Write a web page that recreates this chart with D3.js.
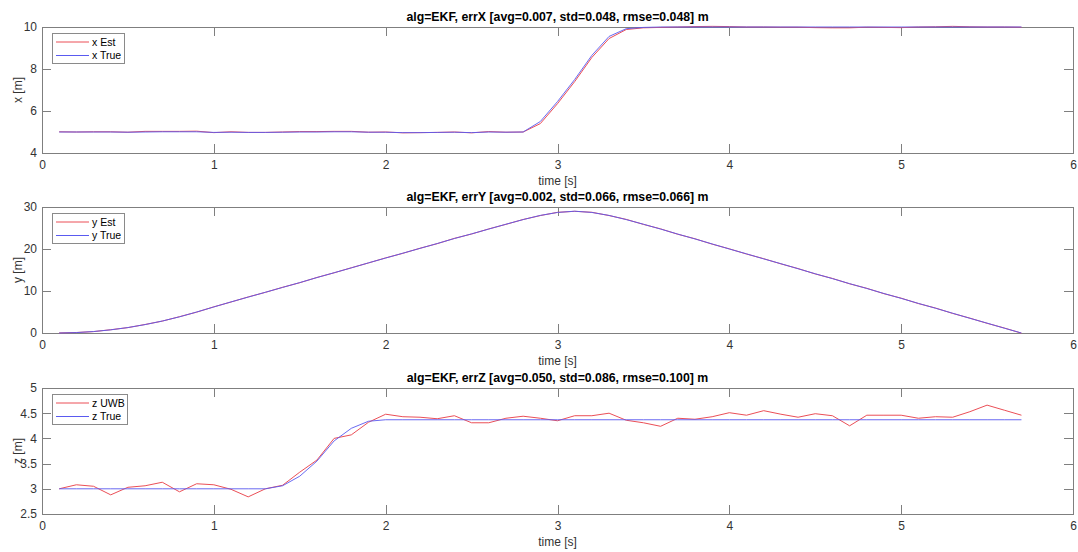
<!DOCTYPE html>
<html>
<head>
<meta charset="utf-8">
<style type="text/css">
  body { margin:0; background:#fff; }
  * { font-family:"Liberation Sans",Arial,Helvetica,sans-serif; }
  .axis path, .axis line { stroke:#7f7f7f; shape-rendering:crispEdges; }
  .axis text { fill:#333; font-size:12px; }
  .title { font-size:12.3px; font-weight:bold; fill:#000; }
  .lbl { font-size:12px; fill:#333; }
  .leg text { font-size:10.5px; fill:#000; }
</style>
</head>
<body>
<div id="canvas"></div>
<script src="https://cdn.jsdelivr.net/npm/d3@7"></script>
<script type="text/javascript">

// sample times 0.1 .. 5.7 s
var time = [0.1,0.2,0.3,0.4,0.5,0.6,0.7,0.8,0.9,1.0,1.1,1.2,1.3,1.4,1.5,1.6,1.7,1.8,1.9,2.0,
            2.1,2.2,2.3,2.4,2.5,2.6,2.7,2.8,2.9,3.0,3.1,3.2,3.3,3.4,3.5,3.6,3.7,3.8,3.9,4.0,
            4.1,4.2,4.3,4.4,4.5,4.6,4.7,4.8,4.9,5.0,5.1,5.2,5.3,5.4,5.5,5.6,5.7];

var xEst  = [5.01,5.00,5.01,5.01,4.99,5.03,5.03,5.03,5.04,4.97,5.01,4.98,4.98,5.00,5.02,5.02,5.03,5.03,4.99,5.00,
             4.96,4.97,4.98,5.00,4.96,5.02,4.99,5.00,5.40,6.35,7.40,8.55,9.45,9.88,9.96,9.98,10.00,10.02,10.03,10.02,
             10.00,10.00,9.99,9.99,9.97,9.96,9.96,9.99,9.98,9.97,10.00,10.01,10.03,10.01,10.00,10.00,9.99];
var xTrue = [5.00,5.00,5.00,5.00,4.99,5.00,5.01,5.01,5.01,4.98,4.99,4.98,4.98,4.99,5.00,5.00,5.01,5.01,4.99,4.99,
             4.97,4.97,4.98,4.99,4.97,5.00,4.99,5.00,5.50,6.45,7.50,8.65,9.55,9.92,9.98,10.00,10.00,10.00,10.00,10.00,
             10.00,10.00,10.00,10.00,10.00,10.00,10.00,10.00,10.00,10.00,10.00,10.00,10.00,10.00,10.00,10.00,10.00];

var yEst  = [0.02,0.12,0.33,0.78,1.28,2.03,2.83,3.88,4.96,6.23,7.38,8.58,9.68,10.88,11.97,13.22,14.33,15.53,16.68,17.88,
             18.97,20.18,21.27,22.53,23.57,24.78,25.87,27.03,27.96,28.73,28.97,28.74,27.96,27.05,25.86,24.79,23.51,22.44,21.16,20.04,
             18.80,17.69,16.46,15.34,14.06,12.99,11.71,10.64,9.36,8.29,7.01,5.94,4.66,3.54,2.31,1.19,-0.04];
var yTrue = [0.00,0.10,0.35,0.75,1.30,2.00,2.85,3.85,5.00,6.20,7.40,8.55,9.70,10.85,12.00,13.20,14.35,15.50,16.70,17.85,
             19.00,20.15,21.30,22.50,23.60,24.75,25.90,27.00,28.00,28.70,29.00,28.70,28.00,27.00,25.90,24.75,23.55,22.40,21.20,20.00,
             18.85,17.65,16.50,15.30,14.10,12.95,11.75,10.60,9.40,8.25,7.05,5.90,4.70,3.50,2.35,1.15,0.00];

var zUwb  = [3.00,3.08,3.05,2.88,3.03,3.06,3.13,2.94,3.10,3.08,2.99,2.84,3.00,3.07,3.33,3.57,4.00,4.07,4.32,4.48,
             4.43,4.42,4.39,4.45,4.31,4.31,4.40,4.44,4.40,4.35,4.45,4.45,4.50,4.36,4.31,4.24,4.40,4.38,4.43,4.51,
             4.46,4.55,4.48,4.42,4.49,4.45,4.25,4.46,4.46,4.46,4.40,4.43,4.42,4.53,4.66,4.56,4.46];
var zTrue = [3.00,3.00,3.00,3.00,3.00,3.00,3.00,3.00,3.00,3.00,3.00,3.00,3.00,3.06,3.25,3.55,3.95,4.20,4.34,4.37,
             4.37,4.37,4.37,4.37,4.37,4.37,4.37,4.37,4.37,4.37,4.37,4.37,4.37,4.37,4.37,4.37,4.37,4.37,4.37,4.37,
             4.37,4.37,4.37,4.37,4.37,4.37,4.37,4.37,4.37,4.37,4.37,4.37,4.37,4.37,4.37,4.37,4.37];

var titles  = ["alg=EKF, errX [avg=0.007, std=0.048, rmse=0.048] m",
               "alg=EKF, errY [avg=0.002, std=0.066, rmse=0.066] m",
               "alg=EKF, errZ [avg=0.050, std=0.086, rmse=0.100] m"];
var yLabels = ["x [m]", "y [m]", "z [m]"];
var legends = [["x Est", "x True"], ["y Est", "y True"], ["z UWB", "z True"]];
var yDomains = [[4, 10], [0, 30], [2.5, 5]];
var yTicks  = [[4, 6, 8, 10], [0, 10, 20, 30], [2.5, 3, 3.5, 4, 4.5, 5]];
var xTicks  = [0, 1, 2, 3, 4, 5, 6];

var W = 1078, H = 552;
var left = 42, right = 1073, plotH = 126;
var tops = [27, 207, 388];
var colEst = "#eb4f57", colTrue = "#5a5af0";

var svg = d3.select("#canvas").append("svg")
    .attr("width", W).attr("height", H);

var x = d3.scaleLinear().domain([0, 6]).range([left, right]);

function drawPanel(i, est, tru) {
  var top = tops[i], bottom = top + plotH;
  var y = d3.scaleLinear().domain(yDomains[i]).range([bottom, top]);
  var g = svg.append("g");

  var fmt = function (d) { return String(d); };

  // box with ticks on all four sides, ticks point inward
  g.append("g").attr("class", "axis").attr("transform", "translate(0," + bottom + ")")
    .call(d3.axisBottom(x).tickValues(xTicks).tickFormat(fmt).tickSizeInner(-9).tickSizeOuter(0).tickPadding(7));
  g.append("g").attr("class", "axis").attr("transform", "translate(0," + top + ")")
    .call(d3.axisTop(x).tickValues(xTicks).tickFormat("").tickSizeInner(-9).tickSizeOuter(0));
  g.append("g").attr("class", "axis").attr("transform", "translate(" + left + ",0)")
    .call(d3.axisLeft(y).tickValues(yTicks[i]).tickFormat(fmt).tickSizeInner(-9).tickSizeOuter(0).tickPadding(5));
  g.append("g").attr("class", "axis").attr("transform", "translate(" + right + ",0)")
    .call(d3.axisRight(y).tickValues(yTicks[i]).tickFormat("").tickSizeInner(-9).tickSizeOuter(0));

  var line = function (vals) {
    return d3.line().x(function (d, k) { return x(time[k]); })
                    .y(function (d) { return y(d); })(vals);
  };
  g.append("path").attr("d", line(est)).attr("fill", "none")
    .attr("stroke", colEst).attr("stroke-width", 1);
  g.append("path").attr("d", line(tru)).attr("fill", "none")
    .attr("stroke", colTrue).attr("stroke-width", 1).attr("stroke-opacity", 0.9);

  g.append("text").attr("class", "title").attr("text-anchor", "middle")
    .attr("x", (left + right) / 2).attr("y", top - 6).text(titles[i]);
  g.append("text").attr("class", "lbl").attr("text-anchor", "middle")
    .attr("x", (left + right) / 2).attr("y", bottom + 32).text("time [s]");
  g.append("text").attr("class", "lbl").attr("text-anchor", "middle")
    .attr("transform", "translate(22," + (top + plotH / 2) + ") rotate(-90)").text(yLabels[i]);

  // legend
  var lw = i == 2 ? 75 : 72;
  var leg = g.append("g").attr("class", "leg").attr("transform", "translate(52," + (top + 6) + ")");
  leg.append("rect").attr("x", 0.5).attr("y", 0.5).attr("width", lw).attr("height", 30)
    .attr("fill", "#fff").attr("stroke", "#8a8a8a");
  [colEst, colTrue].forEach(function (c, k) {
    var ly = 9 + k * 13.5;
    leg.append("line").attr("x1", 4).attr("x2", 37).attr("y1", ly).attr("y2", ly)
      .attr("stroke", c).attr("stroke-width", 1);
    leg.append("text").attr("x", 40).attr("y", ly + 3.5).text(legends[i][k]);
  });
}

drawPanel(0, xEst, xTrue);
drawPanel(1, yEst, yTrue);
drawPanel(2, zUwb, zTrue);

</script>
</body>
</html>
